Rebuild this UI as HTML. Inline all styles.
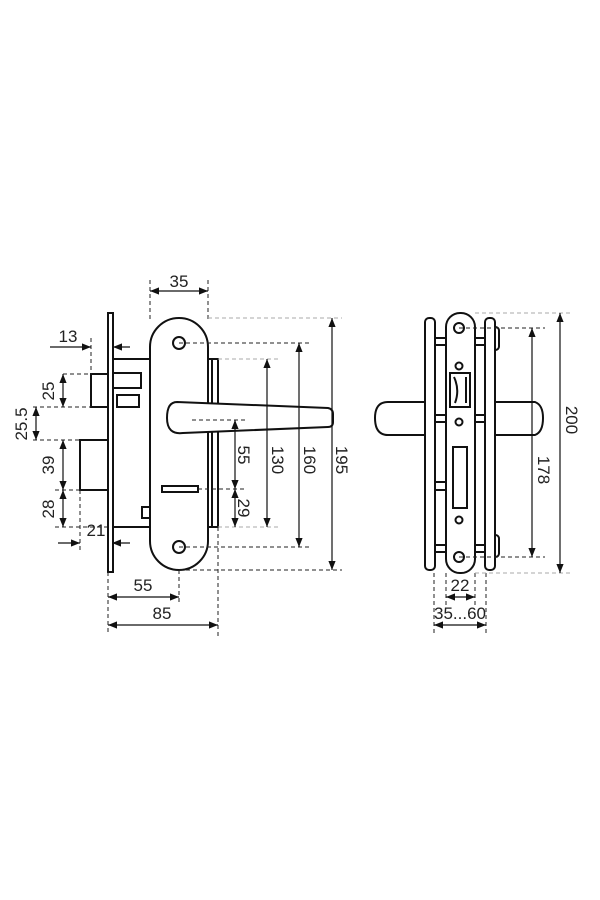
<!DOCTYPE html>
<html><head><meta charset="utf-8"><style>
html,body{margin:0;padding:0;background:#fff;width:600px;height:900px;overflow:hidden}
svg{display:block}
text{font-family:"Liberation Sans Narrow","Liberation Sans",sans-serif;font-size:17px;fill:#222}
.o{fill:#fff;stroke:#111;stroke-width:2}
.d{stroke:#111;stroke-width:1.2;fill:none}
.dd{stroke:#222;stroke-width:1;stroke-dasharray:4,3;fill:none}
.dl{stroke:#aaa;stroke-width:1;stroke-dasharray:4,3;fill:none}
</style></head><body>
<svg width="600" height="900" viewBox="0 0 600 900">
<defs>
<marker id="a" viewBox="0 0 10 10" refX="10" refY="5" markerWidth="9" markerHeight="9" markerUnits="userSpaceOnUse" orient="auto-start-reverse"><path d="M0,1 L10,5 L0,9z" fill="#111"/></marker>
</defs>
<!-- LEFT VIEW -->
<rect class="o" x="112" y="359" width="106" height="168"/>
<rect class="o" x="212" y="359" width="6" height="168"/>
<rect class="o" x="113" y="373" width="28" height="15"/>
<rect class="o" x="117" y="395" width="22" height="12"/>
<rect class="o" x="91" y="374" width="22" height="33"/>
<rect class="o" x="80" y="440" width="28" height="50"/>
<rect class="o" x="108" y="313" width="5" height="259"/>
<rect class="o" x="142" y="507" width="8" height="11"/>
<rect class="o" x="150" y="318" width="58" height="252" rx="29"/>
<circle class="o" cx="179" cy="343" r="6"/>
<circle class="o" cx="179" cy="547" r="6"/>
<rect class="o" x="162" y="486" width="36" height="6"/>
<path class="o" d="M177,402 L328,408 Q333,409 333,414 L333,422 Q333,427 328,427 L183,433 Q167,435 167,418 Q167,402 177,402Z"/>
<!-- left dims -->
<path class="dd" d="M150,280V320M208,280V320M91,338V374M63,374H91M33,407H91M33,440H80M55,490H80M55,527H107M80,490V553M108,572V633M179,570V603M218,527V636"/>
<path class="dd" d="M179,343H310M179,547H310M192,420H245M198,489H245M179,570H342"/>
<path class="dl" d="M208,318H342M218,359H278M218,527H278"/>
<path class="d" marker-start="url(#a)" marker-end="url(#a)" d="M150,291H208"/>
<path class="d" marker-end="url(#a)" d="M50,347H91"/><path class="d" marker-end="url(#a)" d="M130,347H113"/>
<path class="d" marker-end="url(#a)" d="M58,543H80"/><path class="d" marker-end="url(#a)" d="M130,543H112"/>
<path class="d" marker-start="url(#a)" marker-end="url(#a)" d="M63,374V407"/>
<path class="d" marker-start="url(#a)" marker-end="url(#a)" d="M36,407V440"/>
<path class="d" marker-start="url(#a)" marker-end="url(#a)" d="M63,440V490"/>
<path class="d" marker-start="url(#a)" marker-end="url(#a)" d="M63,490V527"/>
<path class="d" marker-start="url(#a)" marker-end="url(#a)" d="M108,597H179"/>
<path class="d" marker-start="url(#a)" marker-end="url(#a)" d="M108,625H218"/>
<path class="d" marker-start="url(#a)" marker-end="url(#a)" d="M235,420V489"/>
<path class="d" marker-start="url(#a)" marker-end="url(#a)" d="M235,489V527"/>
<path class="d" marker-start="url(#a)" marker-end="url(#a)" d="M267,359V527"/>
<path class="d" marker-start="url(#a)" marker-end="url(#a)" d="M299,343V547"/>
<path class="d" marker-start="url(#a)" marker-end="url(#a)" d="M332,318V570"/>
<text x="179" y="287" text-anchor="middle">35</text>
<text x="68" y="342" text-anchor="middle">13</text>
<text x="96" y="536" text-anchor="middle">21</text>
<text x="143" y="591" text-anchor="middle">55</text>
<text x="162" y="619" text-anchor="middle">85</text>
<text transform="translate(54,391) rotate(-90)" text-anchor="middle">25</text>
<text transform="translate(27,424) rotate(-90)" text-anchor="middle">25.5</text>
<text transform="translate(54,465) rotate(-90)" text-anchor="middle">39</text>
<text transform="translate(54,509) rotate(-90)" text-anchor="middle">28</text>
<text transform="translate(238,455) rotate(90)" text-anchor="middle">55</text>
<text transform="translate(238,508) rotate(90)" text-anchor="middle">29</text>
<text transform="translate(272,460) rotate(90)" text-anchor="middle">130</text>
<text transform="translate(304,460) rotate(90)" text-anchor="middle">160</text>
<text transform="translate(336,460) rotate(90)" text-anchor="middle">195</text>
<!-- RIGHT VIEW -->
<path class="o" d="M425,402 H388 Q375,402 375,418 Q375,435 388,435 H425Z"/>
<path class="o" d="M495,402 H535 Q543,405 543,418 Q543,432 535,435 H495Z"/>
<rect class="o" x="435" y="338" width="11" height="7"/><rect class="o" x="475" y="338" width="10" height="7"/>
<rect class="o" x="435" y="415" width="11" height="7"/><rect class="o" x="475" y="415" width="10" height="7"/>
<rect class="o" x="435" y="545" width="11" height="7"/><rect class="o" x="475" y="545" width="10" height="7"/>
<rect class="o" x="435" y="482" width="11" height="8"/>
<rect class="o" x="492" y="327" width="7" height="23" rx="3.5"/>
<rect class="o" x="492" y="535" width="7" height="22" rx="3.5"/>
<rect class="o" x="425" y="318" width="10" height="252" rx="4"/>
<rect class="o" x="485" y="318" width="10" height="252" rx="4"/>
<rect class="o" x="446" y="313" width="29" height="260" rx="14"/>
<circle class="o" cx="459" cy="328" r="5"/>
<circle class="o" cx="459" cy="366" r="3.5"/>
<circle class="o" cx="459" cy="422" r="3.5"/>
<circle class="o" cx="459" cy="520" r="3.5"/>
<circle class="o" cx="459" cy="557" r="5"/>
<path class="o" d="M450,373H470V407H450Z"/>
<path class="o" d="M454,377 Q460,390 455,403 M466,377V403" style="fill:none"/>
<rect class="o" x="453" y="447" width="14" height="61"/>
<path class="dd" d="M459,328H545M459,557H545M434,573V635M446,573V605M475,573V605M486,573V635"/>
<path class="dl" d="M475,313H570M475,573H570"/>
<path class="d" marker-start="url(#a)" marker-end="url(#a)" d="M532,328V557"/>
<path class="d" marker-start="url(#a)" marker-end="url(#a)" d="M560,313V573"/>
<path class="d" marker-start="url(#a)" marker-end="url(#a)" d="M446,597H475"/>
<path class="d" marker-start="url(#a)" marker-end="url(#a)" d="M434,625H486"/>
<text transform="translate(538,470) rotate(90)" text-anchor="middle">178</text>
<text transform="translate(566,420) rotate(90)" text-anchor="middle">200</text>
<text x="460" y="591" text-anchor="middle">22</text>
<text x="460" y="619" text-anchor="middle">35...60</text>
</svg>
</body></html>
